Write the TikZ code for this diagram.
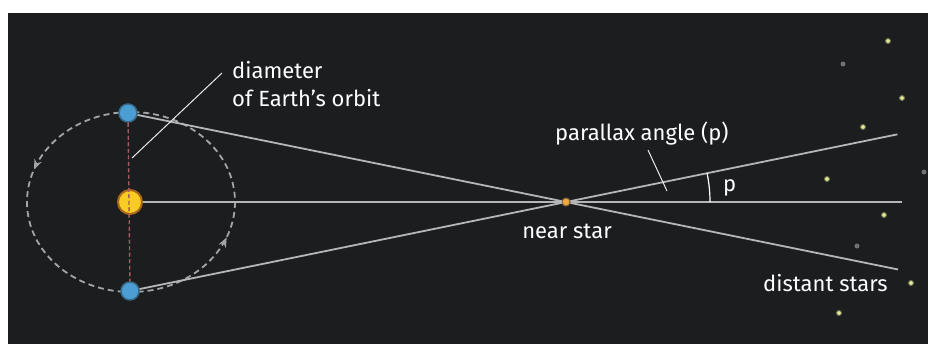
\documentclass[tikz,border=0pt]{standalone}
\usepackage{fontspec}
\setmainfont{Fira Sans}
\usetikzlibrary{calc,arrows.meta,decorations.markings}

\definecolor{sky}{HTML}{1B1D1F}
\definecolor{ray}{HTML}{B4B6B8}
\definecolor{orbitgrey}{HTML}{A2A4A6}
\definecolor{diamred}{HTML}{A85A5E}
\definecolor{earthblue}{HTML}{4C9ED2}
\definecolor{sunyellow}{HTML}{F8CC22}
\definecolor{sunglow}{HTML}{E88A18}
\definecolor{starorange}{HTML}{F0A844}
\definecolor{faryellow}{HTML}{E6EC96}
\definecolor{fargrey}{HTML}{6E7274}

\tikzset{
  raystyle/.style={draw=ray, line width=1.8pt},
  orbitstyle/.style={draw=orbitgrey, line width=1.8pt, dash pattern=on 6pt off 4pt},
  diamstyle/.style={draw=diamred, line width=1.4pt, dash pattern=on 4pt off 2.5pt},
  leader/.style={draw=white!92!black, line width=1pt},
  earthball/.style={circle, inner sep=0pt, minimum size=18pt, fill=earthblue,
    draw=earthblue!60!sky, line width=1.5pt},
  sunball/.style={circle, inner sep=0pt, minimum size=24pt, fill=sunyellow,
    draw=sunglow!70!sky, line width=2pt},
  nearstar/.style={circle, inner sep=0pt, minimum size=8pt, fill=starorange,
    draw=starorange!50!sky, line width=1pt},
  brightstar/.style={circle, inner sep=0pt, minimum size=5pt, fill=faryellow,
    draw=faryellow!40!sky, line width=1pt},
  dimstar/.style={circle, inner sep=0pt, minimum size=5pt, fill=fargrey},
  caption/.style={text=white, font=\fontsize{22}{26}\selectfont, inner sep=0pt, anchor=base west},
  orbitarrow/.style={fill=orbitgrey, draw=none},
}

\begin{document}
\begin{tikzpicture}[x=1pt,y=-1pt]
  \useasboundingbox (0,0) rectangle (928,346);
  \fill[white] (0,0) rectangle (928,346);
  \fill[sky] (8,13) rectangle (928,344);

  % Earth's orbit around the Sun, with direction marks
  \draw[orbitstyle, postaction={decorate},
    decoration={markings,
      mark=at position 0.06 with {\arrowreversed[solid, orbitgrey]{Stealth[length=10pt,width=8pt]}},
      mark=at position 0.555 with {\arrowreversed[solid, orbitgrey]{Stealth[length=10pt,width=8pt]}}}]
    (131,202) ellipse [x radius=104, y radius=90];

  % Sun, Earth at two positions, and the near star
  \node[earthball] (e1) at (128,113) {};
  \node[earthball] (e2) at (130,291) {};
  \node[sunball] (sun) at (130,202) {};
  \node[nearstar] (ns) at (566,202) {};

  % far ends of the sight lines
  \coordinate (d1) at ($(e1)!1.758!(ns)$);
  \coordinate (d2) at ($(e2)!1.760!(ns)$);
  \coordinate (d0) at (902,202);

  % sight lines through the near star
  \draw[raystyle] (e1) -- (ns);
  \draw[raystyle] (ns) -- (d1);
  \draw[raystyle] (e2) -- (ns);
  \draw[raystyle] (ns) -- (d2);
  \draw[raystyle] (sun) -- (ns);
  \draw[raystyle] (ns) -- (d0);

  % diameter of the orbit
  \draw[diamstyle] (e1) -- (e2);

  % background stars
  \node[brightstar] (s1) at (888,41) {};
  \node[dimstar]    (s2) at (843,64) {};
  \node[brightstar] (s3) at (902,98) {};
  \node[brightstar] (s4) at (863,127) {};
  \node[dimstar]    (s5) at (924,172) {};
  \node[brightstar] (s6) at (827,179) {};
  \node[brightstar] (s7) at (884,215) {};
  \node[dimstar]    (s8) at (857,246) {};
  \node[brightstar] (s9) at (911,283) {};
  \node[brightstar] (s10) at (839,313) {};

  % parallax angle arc
  \draw[draw=white, line width=1.2pt] ([shift={(0:144)}]ns.center)
    arc[start angle=0, end angle=-11.6, radius=144];

  % labels
  \node[caption] (ldiam) at (232,78) {diameter};
  \node[caption] (lorbit) at (232,106) {of Earth’s orbit};
  \node[caption] (lpar) at (555,140) {parallax angle (p)};
  \node[caption] (lp) at (723,191) {p};
  \node[caption, anchor=base] (lnear) at (567,238) {near star};
  \node[caption] (ldist) at (763,291) {distant stars};

  % leader lines
  \coordinate (diamtip) at (222,73);
  \coordinate (diampt) at (132,158);
  \draw[leader] (diamtip) -- (diampt);
  \coordinate (partip) at (648,150);
  \coordinate (parpt) at (667,191);
  \draw[leader] (partip) -- (parpt);
\end{tikzpicture}
\end{document}
